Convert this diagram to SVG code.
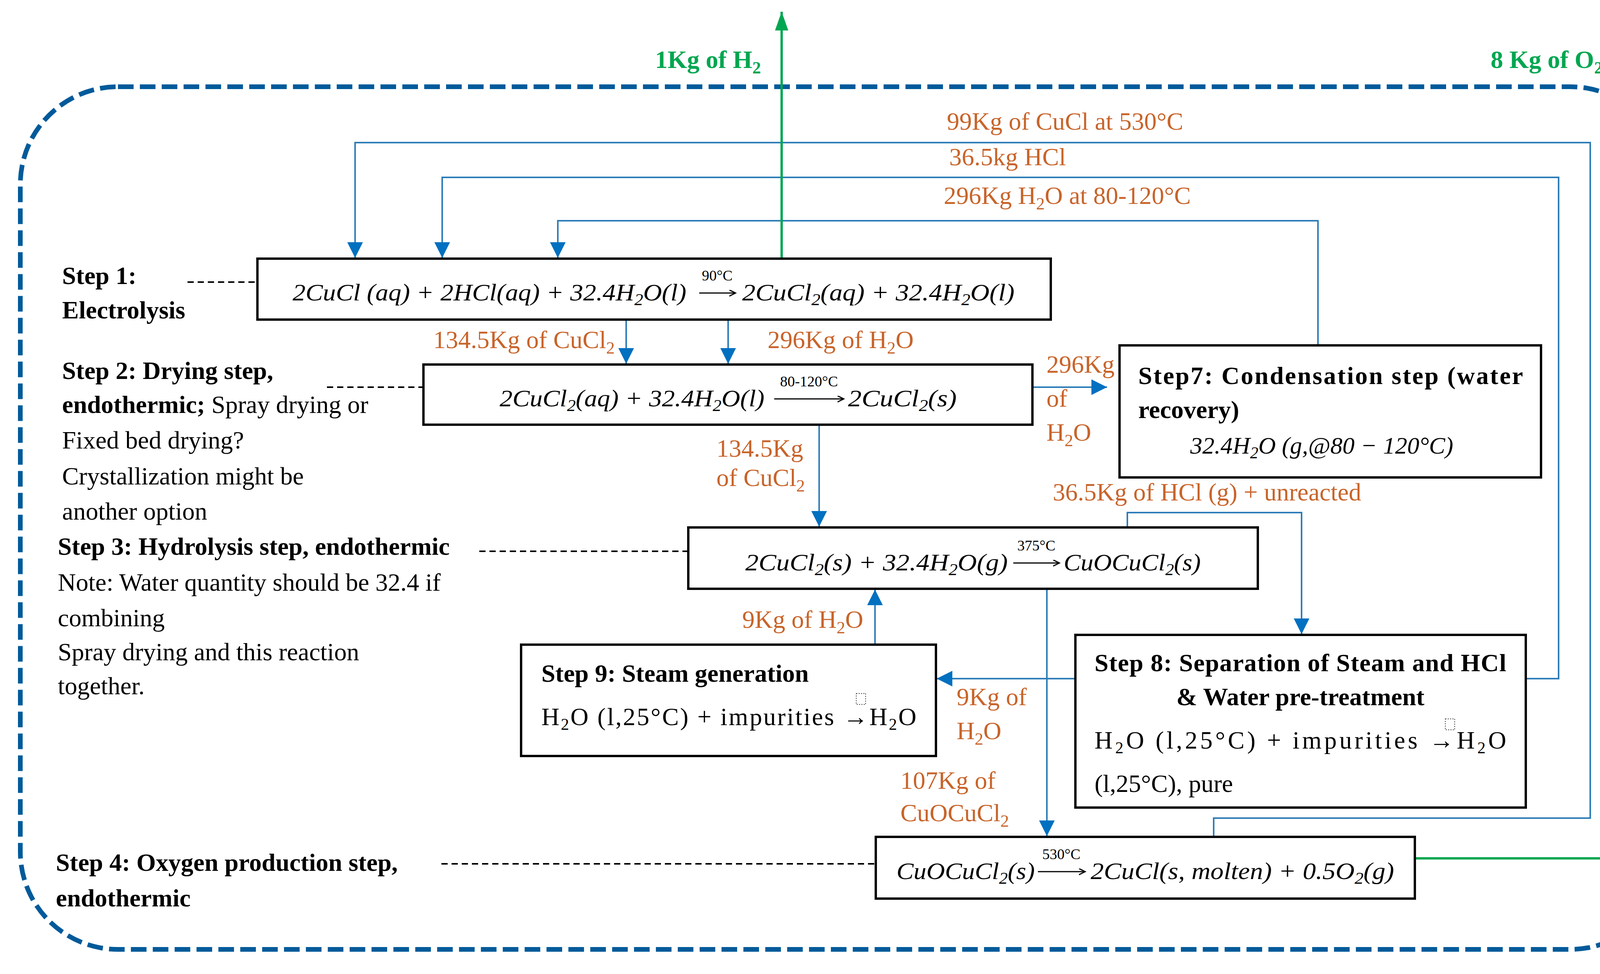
<svg xmlns="http://www.w3.org/2000/svg" width="4304" height="2493" viewBox="0 0 4304 2493">
<style>
text{font-family:"Liberation Serif","DejaVu Serif",serif;fill:#000}
.t{font-size:64px}
.b{font-weight:bold}
.or{font-size:64px;fill:#C8642A}
.gr{font-size:64px;fill:#00A650;font-weight:bold}
.eq{font-size:62px;font-style:italic}
.tmp{font-size:38px}
.box{fill:#fff;stroke:#000;stroke-width:6}
.c{fill:none;stroke:#2E7DB8;stroke-width:4}
.g{fill:none;stroke:#00A650;stroke-width:6}
.d{fill:none;stroke:#000;stroke-width:4;stroke-dasharray:16 10}
.ar{fill:none;stroke:#000;stroke-width:3}
</style>
<defs>
<marker id="ab" markerUnits="userSpaceOnUse" markerWidth="44" markerHeight="44" refX="40" refY="20" orient="auto"><path d="M0,0 L40,20 L0,40 Z" fill="#0070C0"/></marker>
<marker id="ag" markerUnits="userSpaceOnUse" markerWidth="50" markerHeight="40" refX="48" refY="17" orient="auto"><path d="M0,0 L48,17 L0,34 Z" fill="#00A650"/></marker>
<marker id="ak" markerUnits="userSpaceOnUse" markerWidth="20" markerHeight="20" refX="16" refY="8" orient="auto"><path d="M0,0 L16,8 L0,16" fill="none" stroke="#000" stroke-width="3"/></marker>
</defs>
<rect x="52" y="222" width="4218" height="2208" rx="250" ry="250" fill="none" stroke="#005A9A" stroke-width="12" stroke-dasharray="40 16"/>
<g id="connectors">
<path class="c" d="M3107,2142 V2094 H4071 V365 H909 V660" marker-end="url(#ab)"/>
<path class="c" d="M3907,1737 H3990 V454 H1132 V660" marker-end="url(#ab)"/>
<path class="c" d="M3374,887 V565 H1428 V660" marker-end="url(#ab)"/>
<path class="c" d="M1603,818 V931" marker-end="url(#ab)"/>
<path class="c" d="M1864,818 V931" marker-end="url(#ab)"/>
<path class="c" d="M2643,991 H2834" marker-end="url(#ab)"/>
<path class="c" d="M2097,1087 V1348" marker-end="url(#ab)"/>
<path class="c" d="M2886,1350 V1312 H3332 V1623" marker-end="url(#ab)"/>
<path class="c" d="M2240,1650 V1509" marker-end="url(#ab)"/>
<path class="c" d="M2753,1737 H2398" marker-end="url(#ab)"/>
<path class="c" d="M2680,1507 V2140" marker-end="url(#ab)"/>
<path class="g" d="M2001,662 V30" marker-end="url(#ag)"/>
<path class="g" d="M3622,2197 H4172 V62" marker-end="url(#ag)"/>
<path class="d" d="M480,722 H655"/>
<path class="d" d="M837,991 H1082"/>
<path class="d" d="M1227,1411 H1760"/>
<path class="d" d="M1130,2211 H2240"/>
</g>
<g id="labels">
<text class="gr" x="1677" y="174">1Kg of H<tspan dy="14" font-size="44">2</tspan></text>
<text class="gr" x="3816" y="174">8 Kg of O<tspan dy="14" font-size="44">2</tspan></text>
<text class="or" x="2424" y="332">99Kg of CuCl at 530°C</text>
<text class="or" x="2430" y="423">36.5kg HCl</text>
<text class="or" x="2416" y="522">296Kg H<tspan dy="14" font-size="44">2</tspan><tspan dy="-14">O at 80-120°C</tspan></text>
<text class="or" x="1109" y="891">134.5Kg of CuCl<tspan dy="14" font-size="44">2</tspan></text>
<text class="or" x="1965" y="891">296Kg of H<tspan dy="14" font-size="44">2</tspan><tspan dy="-14">O</tspan></text>
<text class="or" x="2679" y="954">296Kg</text>
<text class="or" x="2679" y="1041">of</text>
<text class="or" x="2679" y="1128">H<tspan dy="14" font-size="44">2</tspan><tspan dy="-14">O</tspan></text>
<text class="or" x="1834" y="1169">134.5Kg</text>
<text class="or" x="1834" y="1244">of CuCl<tspan dy="14" font-size="44">2</tspan></text>
<text class="or" x="2695" y="1281">36.5Kg of HCl (g) + unreacted</text>
<text class="or" x="1900" y="1607">9Kg of H<tspan dy="14" font-size="44">2</tspan><tspan dy="-14">O</tspan></text>
<text class="or" x="2449" y="1805">9Kg of</text>
<text class="or" x="2449" y="1892">H<tspan dy="14" font-size="44">2</tspan><tspan dy="-14">O</tspan></text>
<text class="or" x="2305" y="2019">107Kg of</text>
<text class="or" x="2305" y="2102">CuOCuCl<tspan dy="14" font-size="44">2</tspan></text>
</g>
<g id="side-notes">
<text class="t b" x="159" y="727">Step 1:</text>
<text class="t b" x="159" y="815">Electrolysis</text>
<text class="t" x="159" y="970"><tspan class="b">Step 2: Drying step,</tspan></text>
<text class="t" x="159" y="1057"><tspan class="b">endothermic;</tspan> Spray drying or</text>
<text class="t" x="159" y="1148">Fixed bed drying?</text>
<text class="t" x="159" y="1240">Crystallization might be</text>
<text class="t" x="159" y="1330">another option</text>
<text class="t b" x="148" y="1420">Step 3: Hydrolysis step, endothermic</text>
<text class="t" x="148" y="1512">Note: Water quantity should be 32.4 if</text>
<text class="t" x="148" y="1603">combining</text>
<text class="t" x="148" y="1690">Spray drying and this reaction</text>
<text class="t" x="148" y="1777">together.</text>
<text class="t b" x="143" y="2229">Step 4: Oxygen production step,</text>
<text class="t b" x="143" y="2320">endothermic</text>
</g>
<g id="step1">
<rect class="box" x="659" y="662" width="2031" height="156"/>
<text class="eq" x="749" y="769" textLength="1008" lengthAdjust="spacingAndGlyphs">2CuCl (aq) + 2HCl(aq) + 32.4H<tspan dy="12" font-size="42">2</tspan><tspan dy="-12">O(l)</tspan></text>
<line class="ar" x1="1790" y1="750" x2="1883" y2="750" marker-end="url(#ak)"/>
<text class="tmp" x="1836" y="718" text-anchor="middle">90°C</text>
<text class="eq" x="1900" y="769" textLength="697" lengthAdjust="spacingAndGlyphs">2CuCl<tspan dy="12" font-size="42">2</tspan><tspan dy="-12">(aq) + 32.4H</tspan><tspan dy="12" font-size="42">2</tspan><tspan dy="-12">O(l)</tspan></text>
</g>
<g id="step2">
<rect class="box" x="1084" y="933" width="1559" height="154"/>
<text class="eq" x="1279" y="1040" textLength="678" lengthAdjust="spacingAndGlyphs">2CuCl<tspan dy="12" font-size="42">2</tspan><tspan dy="-12">(aq) + 32.4H</tspan><tspan dy="12" font-size="42">2</tspan><tspan dy="-12">O(l)</tspan></text>
<line class="ar" x1="1982" y1="1021" x2="2160" y2="1021" marker-end="url(#ak)"/>
<text class="tmp" x="2071" y="989" text-anchor="middle">80-120°C</text>
<text class="eq" x="2171" y="1040" textLength="278" lengthAdjust="spacingAndGlyphs">2CuCl<tspan dy="12" font-size="42">2</tspan><tspan dy="-12">(s)</tspan></text>
</g>
<g id="step7">
<rect class="box" x="2866" y="884" width="1079" height="338"/>
<text class="t b" x="2914" y="983" textLength="985" lengthAdjust="spacing">Step7: Condensation step (water</text>
<text class="t b" x="2914" y="1070">recovery)</text>
<text class="eq" x="3047" y="1161">32.4H<tspan dy="12" font-size="42">2</tspan><tspan dy="-12">O (g,@80 − 120°C)</tspan></text>
</g>
<g id="step3">
<rect class="box" x="1762" y="1350" width="1458" height="157"/>
<text class="eq" x="1908" y="1460" textLength="672" lengthAdjust="spacingAndGlyphs">2CuCl<tspan dy="12" font-size="42">2</tspan><tspan dy="-12">(s) + 32.4H</tspan><tspan dy="12" font-size="42">2</tspan><tspan dy="-12">O(g)</tspan></text>
<line class="ar" x1="2594" y1="1441" x2="2712" y2="1441" marker-end="url(#ak)"/>
<text class="tmp" x="2653" y="1409" text-anchor="middle">375°C</text>
<text class="eq" x="2723" y="1460" textLength="351" lengthAdjust="spacingAndGlyphs">CuOCuCl<tspan dy="12" font-size="42">2</tspan><tspan dy="-12">(s)</tspan></text>
</g>
<g id="step9">
<rect class="box" x="1334" y="1650" width="1062" height="285"/>
<text class="t b" x="1386" y="1745">Step 9: Steam generation</text>
<text class="t" x="1386" y="1856" textLength="960" lengthAdjust="spacing">H<tspan dy="12" font-size="42">2</tspan><tspan dy="-12">O  (l,25°C)  +  impurities  →H</tspan><tspan dy="12" font-size="42">2</tspan><tspan dy="-12">O</tspan></text>
<rect x="2192" y="1775" width="24" height="28" fill="none" stroke="#555" stroke-width="2" stroke-dasharray="3 3"/>
</g>
<g id="step8">
<rect class="box" x="2753" y="1625" width="1153" height="442"/>
<text class="t b" x="2802" y="1718" textLength="1054" lengthAdjust="spacing">Step 8: Separation of Steam and HCl</text>
<text class="t b" x="3329" y="1805" text-anchor="middle">&amp; Water pre-treatment</text>
<text class="t" x="2802" y="1916" textLength="1054" lengthAdjust="spacing">H<tspan dy="12" font-size="42">2</tspan><tspan dy="-12">O   (l,25°C)   +   impurities   →H</tspan><tspan dy="12" font-size="42">2</tspan><tspan dy="-12">O</tspan></text>
<rect x="3700" y="1840" width="24" height="28" fill="none" stroke="#555" stroke-width="2" stroke-dasharray="3 3"/>
<text class="t" x="2802" y="2027">(l,25°C), pure</text>
</g>
<g id="step4">
<rect class="box" x="2242" y="2142" width="1380" height="158"/>
<text class="eq" x="2295" y="2250" textLength="354" lengthAdjust="spacingAndGlyphs">CuOCuCl<tspan dy="12" font-size="42">2</tspan><tspan dy="-12">(s)</tspan></text>
<line class="ar" x1="2657" y1="2231" x2="2778" y2="2231" marker-end="url(#ak)"/>
<text class="tmp" x="2717" y="2199" text-anchor="middle">530°C</text>
<text class="eq" x="2792" y="2250" textLength="777" lengthAdjust="spacingAndGlyphs">2CuCl(s, molten) + 0.5O<tspan dy="12" font-size="42">2</tspan><tspan dy="-12">(g)</tspan></text>
</g>
</svg>
